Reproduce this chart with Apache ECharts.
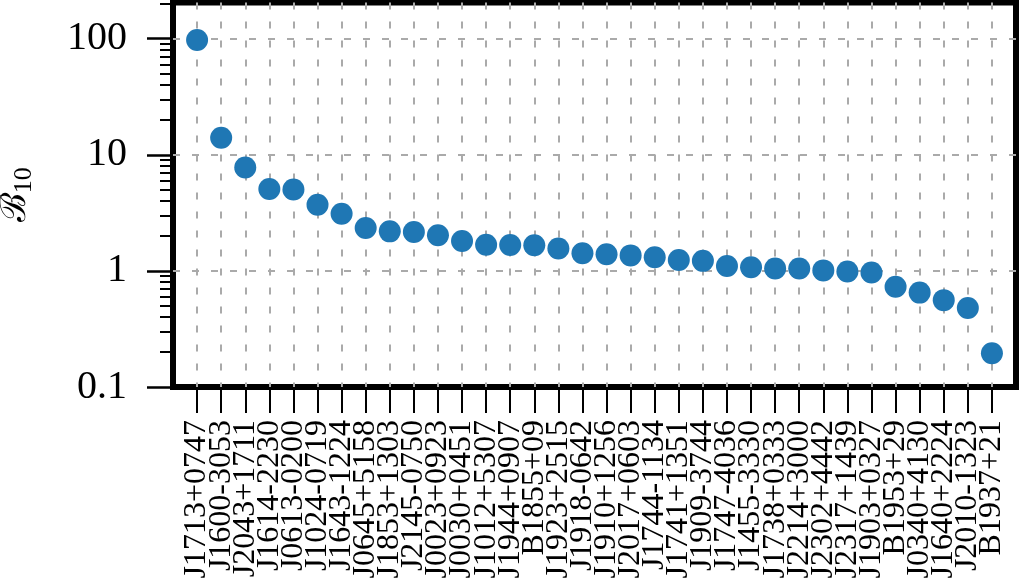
<!DOCTYPE html>
<html>
<head>
<meta charset="utf-8">
<script src="https://cdn.jsdelivr.net/npm/echarts@6/dist/echarts.min.js"></script>
<style>html,body{margin:0;padding:0;background:#fff}#c{width:1020px;height:581px}</style>
</head>
<body>
<div id="c"></div>
<script>
const pulsars = ['J1713+0747','J1600-3053','J2043+1711','J1614-2230','J0613-0200','J1024-0719','J1643-1224','J0645+5158','J1853+1303','J2145-0750','J0023+0923','J0030+0451','J1012+5307','J1944+0907','B1855+09','J1923+2515','J1918-0642','J1910+1256','J2017+0603','J1744-1134','J1741+1351','J1909-3744','J1747-4036','J1455-3330','J1738+0333','J2214+3000','J2302+4442','J2317+1439','J1903+0327','B1953+29','J0340+4130','J1640+2224','J2010-1323','B1937+21'];
const bayesFactor = [97.5,14.0,7.78,5.07,5.03,3.72,3.11,2.34,2.19,2.16,2.03,1.81,1.68,1.67,1.66,1.56,1.42,1.39,1.36,1.31,1.24,1.22,1.10,1.075,1.05,1.05,1.01,0.99,0.97,0.73,0.65,0.56,0.48,0.195];
const yMajorTicks = [0.1, 1, 10, 100];
const yMinorTicks = [0.2,0.3,0.4,0.5,0.6,0.7,0.8,0.9,2,3,4,5,6,7,8,9,20,30,40,50,60,70,80,90,200];
const yMin = 0.1, yMax = 205;

// pulsar i sits at slot i+1, with one empty slot on each side
const slots = pulsars.map((p, i) => i + 1);
const serif = 'Liberation Serif';
const grid = '#aaaaaa';

const chart = echarts.init(document.getElementById('c'), null, {renderer: 'canvas'});
chart.setOption({
  animation: false,
  backgroundColor: '#fff',
  grid: {left: 173, right: 4, top: 2.5, bottom: 194, show: true, borderWidth: 6, borderColor: '#000',
    backgroundColor: 'transparent', containLabel: false, outerBoundsMode: 'none'},
  xAxis: {
    type: 'value', min: 0, max: pulsars.length + 1, interval: 1,
    axisLine: {show: false},
    axisTick: {show: true, customValues: slots, length: 26, inside: false, lineStyle: {color: '#000', width: 2}},
    axisLabel: {showMinLabel: true, showMaxLabel: true, hideOverlap: false, rotate: 90, margin: 33,
      fontFamily: serif, fontSize: 32, color: '#000',
      formatter: v => pulsars[Math.round(v) - 1] || ''},
    splitLine: {show: true, lineStyle: {color: grid, width: 2, type: [7, 12]}}
  },
  yAxis: [{
    type: 'log', logBase: 10, min: yMin, max: yMax,
    axisLine: {show: false},
    axisTick: {show: true, customValues: yMajorTicks, length: 26, lineStyle: {color: '#000', width: 2.5}},
    axisLabel: {customValues: yMajorTicks, showMinLabel: true, showMaxLabel: true, margin: 46,
      fontFamily: serif, fontSize: 40, color: '#000', formatter: v => String(v)},
    splitLine: {show: true, showMinLine: false, lineStyle: {color: grid, width: 2, type: [7, 12]}},
    name: '{b|ℬ}{s|10}',
    nameLocation: 'middle', nameRotate: 90, nameGap: 136,
    nameTextStyle: {rich: {
      b: {fontFamily: 'DejaVu Serif', fontSize: 35, lineHeight: 42, color: '#000'},
      s: {fontFamily: serif, fontSize: 26, lineHeight: 30, verticalAlign: 'bottom', color: '#000'}
    }}
  }, {
    type: 'log', logBase: 10, min: yMin, max: yMax, position: 'left',
    axisLine: {show: false},
    axisTick: {show: true, customValues: yMinorTicks, length: 13, lineStyle: {color: '#000', width: 2}},
    axisLabel: {show: false},
    splitLine: {show: false}
  }],
  series: [{
    type: 'scatter', yAxisIndex: 0,
    data: pulsars.map((p, i) => [slots[i], bayesFactor[i]]),
    symbol: 'circle', symbolSize: 22,
    itemStyle: {color: '#1f77b4', opacity: 1}
  }]
});
</script>
</body>
</html>
